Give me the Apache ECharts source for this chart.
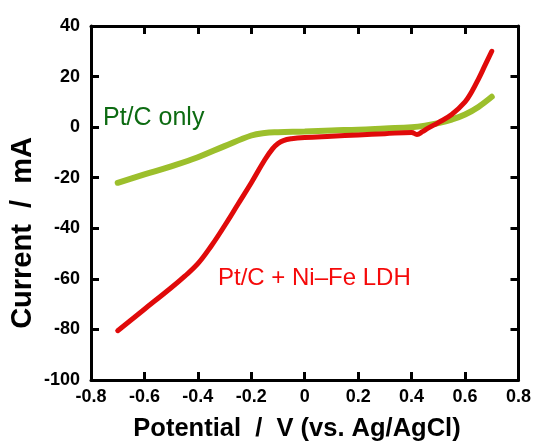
<!DOCTYPE html>
<html>
<head>
<meta charset="utf-8">
<script src="https://cdn.jsdelivr.net/npm/echarts@6/dist/echarts.min.js"></script>
<style>
  html, body { margin: 0; padding: 0; background: #fff; }
  #chart { width: 534px; height: 443px; }
</style>
</head>
<body>
<div id="chart"></div>
<script>
// potential (V) vs current (mA)
const ptcX = [-0.7, -0.6, -0.5, -0.4, -0.3, -0.2, -0.15, -0.1, 0, 0.1, 0.2, 0.3, 0.4, 0.45, 0.5, 0.55, 0.6, 0.65, 0.7]
const ptcY = [-22, -18.7, -15.5, -11.9, -7.5, -3.3, -2.3, -2.0, -1.7, -1.3, -1.0, -0.5, 0, 0.6, 1.6, 3.0, 5.0, 8.0, 12]

const ldhX = [-0.7, -0.6, -0.5, -0.45, -0.4, -0.35, -0.3, -0.25, -0.2, -0.15, -0.12, -0.1, -0.08, -0.05, 0, 0.1, 0.2, 0.3, 0.4, 0.42, 0.44, 0.46, 0.5, 0.55, 0.6, 0.625, 0.65, 0.675, 0.7]
const ldhY = [-80.5, -72, -63.5, -59, -54, -47, -39, -30.5, -22, -13, -8.5, -6.5, -5.3, -4.6, -4.1, -3.6, -3.1, -2.6, -2.1, -2.9, -1.8, -0.5, 1.8, 5, 10, 14, 19, 24.5, 30]

const xTicks = [-0.8, 0.8, 0.2]   // min, max, step
const yTicks = [-100, 40, 20]

const ptcData = ptcX.map((x, i) => [x, ptcY[i]])
const ldhData = ldhX.map((x, i) => [x, ldhY[i]])

const myChart = echarts.init(document.getElementById('chart'))

const axisBase = {
    axisLine: { show: true, onZero: false, lineStyle: { color: '#000', width: 3 } },
    axisTick: { show: true, inside: true, length: 8, lineStyle: { color: '#000', width: 3 } },
    splitLine: { show: false },
}

const option = {
    animation: false,
    grid: { left: 91, right: 12, top: 26, bottom: 63 },
    xAxis: [
        {
            ...axisBase,
            type: 'value',
            min: xTicks[0], max: xTicks[1], interval: xTicks[2],
            axisLabel: {
                color: '#000', fontSize: 18, fontWeight: 'bold', fontFamily: 'Liberation Sans', margin: 8,
                formatter: v => (Math.abs(v) < 1e-9 ? '0' : v.toFixed(1))
            }
        },
        {
            ...axisBase,
            type: 'value', position: 'top',
            min: xTicks[0], max: xTicks[1], interval: xTicks[2],
            axisLabel: { show: false }
        }
    ],
    yAxis: [
        {
            ...axisBase,
            type: 'value',
            min: yTicks[0], max: yTicks[1], interval: yTicks[2],
            axisLabel: { color: '#000', fontSize: 18, fontWeight: 'bold', fontFamily: 'Liberation Sans', margin: 11 }
        },
        {
            ...axisBase,
            type: 'value', position: 'right',
            min: yTicks[0], max: yTicks[1], interval: yTicks[2],
            axisLabel: { show: false }
        }
    ],
    series: [
        {
            name: 'Pt/C only',
            type: 'line',
            data: ptcData,
            smooth: 0.4,
            showSymbol: false,
            lineStyle: { color: '#9cbf2c', width: 6, cap: 'round' },
            z: 2
        },
        {
            name: 'Pt/C + Ni-Fe LDH',
            type: 'line',
            data: ldhData,
            smooth: 0.4,
            showSymbol: false,
            lineStyle: { color: '#e00a0a', width: 5, cap: 'round' },
            z: 3
        }
    ],
    graphic: [
        {
            type: 'text', left: 103, top: 106,
            style: { text: 'Pt/C only', fill: '#0d6b12', font: '25px "Liberation Sans"' }
        },
        {
            type: 'text', left: 218, top: 266,
            style: { text: 'Pt/C + Ni–Fe LDH', fill: '#f50a0a', font: '24px "Liberation Sans"' }
        },
        {
            type: 'text', x: 297, y: 429,
            style: { text: 'Potential  /  V (vs. Ag/AgCl)', fill: '#000', font: 'bold 25.5px "Liberation Sans"', align: 'center', verticalAlign: 'middle' }
        },
        {
            type: 'text', x: 23, y: 233, rotation: Math.PI / 2,
            style: { text: 'Current  /  mA', fill: '#000', font: 'bold 29px "Liberation Sans"', align: 'center', verticalAlign: 'middle' }
        }
    ]
}
myChart.setOption(option)
</script>
</body>
</html>
